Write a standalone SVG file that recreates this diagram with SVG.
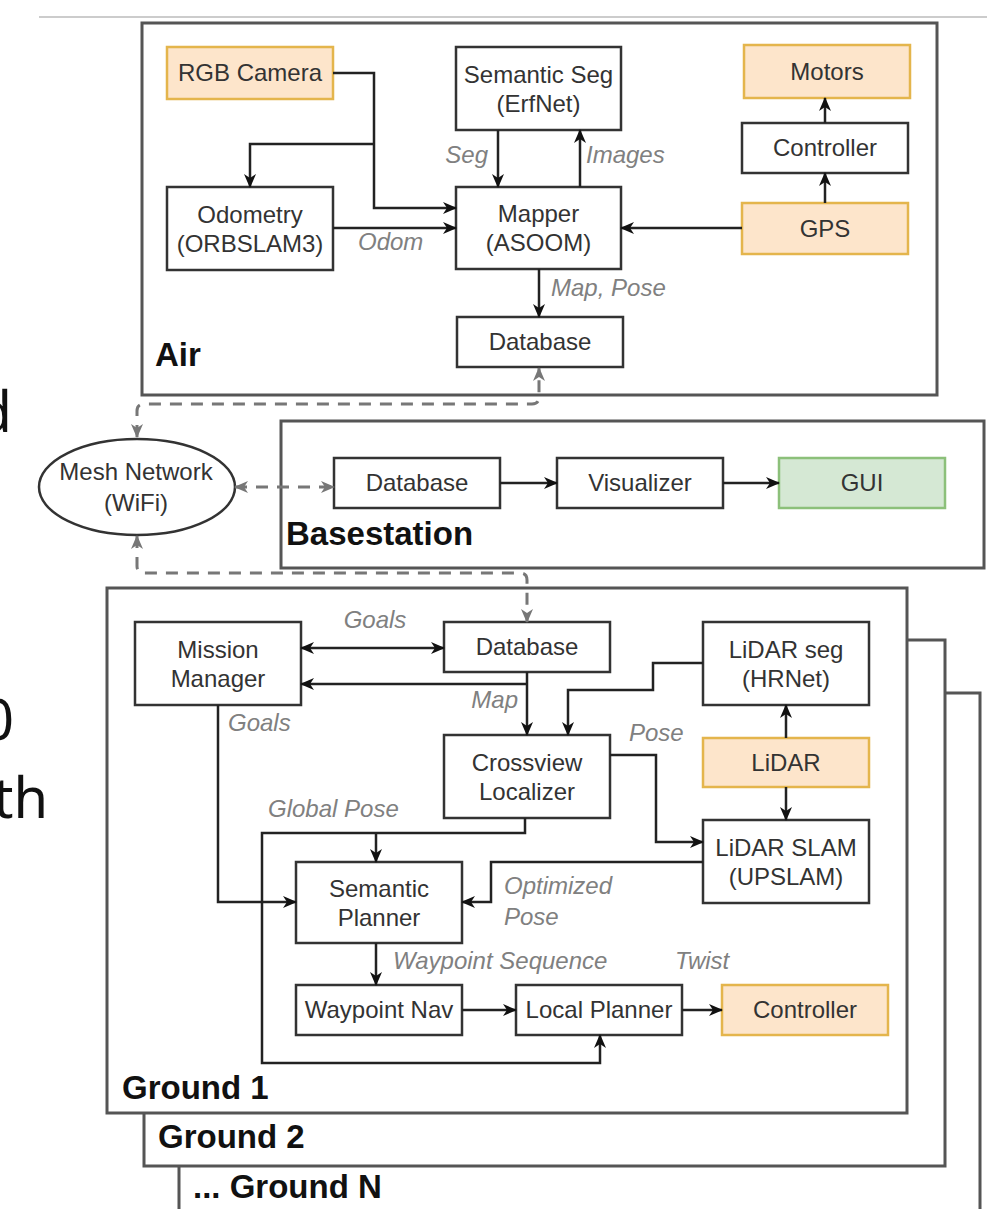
<svg xmlns="http://www.w3.org/2000/svg" width="1006" height="1209" viewBox="0 0 1006 1209">
<defs>
<style>
.box{fill:#fff;stroke:#333;stroke-width:2.5}
.org{fill:#fde5cb;stroke:#e4b54c;stroke-width:2.5}
.grn{fill:#d5e8d4;stroke:#8cc07a;stroke-width:2.5}
.cont{fill:#fff;stroke:#555;stroke-width:3}
.t{font-family:"Liberation Sans",Arial,sans-serif;font-size:24px;fill:#333;text-anchor:middle}
.lbl{font-family:"Liberation Sans",Arial,sans-serif;font-size:24px;font-style:italic;fill:#808080}
.sec{font-family:"Liberation Sans",Arial,sans-serif;font-size:33px;font-weight:bold;fill:#111}
.doc{font-family:"Noto Sans","DejaVu Sans",sans-serif;font-size:56px;fill:#111;text-anchor:end}
.w{fill:none;stroke:#222;stroke-width:2.5;marker-end:url(#a)}
.w2{fill:none;stroke:#222;stroke-width:2.5;marker-start:url(#a);marker-end:url(#a)}
.d{fill:none;stroke:#777;stroke-width:3;stroke-dasharray:12 9;marker-start:url(#g);marker-end:url(#g)}
</style>
<marker id="a" viewBox="0 0 14 12" refX="13" refY="6" markerWidth="14" markerHeight="12" markerUnits="userSpaceOnUse" orient="auto-start-reverse"><path d="M0,0 L14,6 L0,12 L4,6 Z" fill="#111"/></marker>
<marker id="g" viewBox="0 0 14 12" refX="13" refY="6" markerWidth="14" markerHeight="12" markerUnits="userSpaceOnUse" orient="auto-start-reverse"><path d="M0,0 L14,6 L0,12 L4,6 Z" fill="#777"/></marker>
</defs>
<rect width="1006" height="1209" fill="#fff"/>
<line x1="39" y1="17" x2="987" y2="17" stroke="#ccc" stroke-width="2"/>
<text class="doc" x="12" y="432">d</text>
<text class="doc" x="14" y="740">0</text>
<text class="doc" x="48" y="818">th</text>

<g id="air">
<rect class="cont" x="142" y="23" width="795" height="372"/>
<text class="sec" x="155" y="366">Air</text>
</g>
<g id="basestation">
<rect class="cont" x="281" y="421" width="703" height="147"/>
<text class="sec" x="286" y="545">Basestation</text>
</g>
<g id="groundN">
<rect class="cont" x="179" y="693" width="801" height="560"/>
<text class="sec" x="193" y="1198">... Ground N</text>
</g>
<g id="ground2">
<rect class="cont" x="144" y="640" width="801" height="526"/>
<text class="sec" x="158" y="1148">Ground 2</text>
</g>
<g id="ground1">
<rect class="cont" x="107" y="588" width="800" height="525"/>
<text class="sec" x="122" y="1099">Ground 1</text>
</g>

<g id="rgb-camera"><rect class="org" x="167" y="47" width="166" height="52"/><text class="t" x="250" y="81">RGB Camera</text></g>
<g id="semantic-seg"><rect class="box" x="456" y="47" width="165" height="83"/><text class="t" x="538.5" y="82.5">Semantic Seg</text><text class="t" x="538.5" y="111.5">(ErfNet)</text></g>
<g id="motors"><rect class="org" x="744" y="45" width="166" height="53"/><text class="t" x="827" y="80">Motors</text></g>
<g id="air-controller"><rect class="box" x="742" y="123" width="166" height="50"/><text class="t" x="825" y="156">Controller</text></g>
<g id="gps"><rect class="org" x="742" y="203" width="166" height="51"/><text class="t" x="825" y="237">GPS</text></g>
<g id="odometry"><rect class="box" x="167" y="187" width="166" height="83"/><text class="t" x="250" y="222.5">Odometry</text><text class="t" x="250" y="251.5">(ORBSLAM3)</text></g>
<g id="mapper"><rect class="box" x="456" y="187" width="165" height="82"/><text class="t" x="538.5" y="222">Mapper</text><text class="t" x="538.5" y="251">(ASOOM)</text></g>
<g id="air-database"><rect class="box" x="457" y="317" width="166" height="50"/><text class="t" x="540" y="350">Database</text></g>

<g id="mesh-network"><ellipse cx="137" cy="487" rx="98" ry="48" fill="#fff" stroke="#333" stroke-width="2.5"/><text class="t" x="136" y="480">Mesh Network</text><text class="t" x="136" y="511">(WiFi)</text></g>

<g id="base-database"><rect class="box" x="334" y="458" width="166" height="50"/><text class="t" x="417" y="491">Database</text></g>
<g id="visualizer"><rect class="box" x="557" y="458" width="166" height="50"/><text class="t" x="640" y="491">Visualizer</text></g>
<g id="gui"><rect class="grn" x="779" y="458" width="166" height="50"/><text class="t" x="862" y="491">GUI</text></g>

<g id="mission-manager"><rect class="box" x="135" y="622" width="166" height="83"/><text class="t" x="218" y="657.5">Mission</text><text class="t" x="218" y="686.5">Manager</text></g>
<g id="ground-database"><rect class="box" x="444" y="622" width="166" height="50"/><text class="t" x="527" y="655">Database</text></g>
<g id="crossview-localizer"><rect class="box" x="444" y="735" width="166" height="83"/><text class="t" x="527" y="770.5">Crossview</text><text class="t" x="527" y="799.5">Localizer</text></g>
<g id="lidar-seg"><rect class="box" x="703" y="622" width="166" height="83"/><text class="t" x="786" y="657.5">LiDAR seg</text><text class="t" x="786" y="686.5">(HRNet)</text></g>
<g id="lidar"><rect class="org" x="703" y="738" width="166" height="49"/><text class="t" x="786" y="771">LiDAR</text></g>
<g id="lidar-slam"><rect class="box" x="703" y="820" width="166" height="83"/><text class="t" x="786" y="855.5">LiDAR SLAM</text><text class="t" x="786" y="884.5">(UPSLAM)</text></g>
<g id="semantic-planner"><rect class="box" x="296" y="862" width="166" height="81"/><text class="t" x="379" y="896.5">Semantic</text><text class="t" x="379" y="925.5">Planner</text></g>
<g id="waypoint-nav"><rect class="box" x="296" y="985" width="166" height="50"/><text class="t" x="379" y="1018">Waypoint Nav</text></g>
<g id="local-planner"><rect class="box" x="516" y="985" width="166" height="50"/><text class="t" x="599" y="1018">Local Planner</text></g>
<g id="ground-controller"><rect class="org" x="722" y="985" width="166" height="50"/><text class="t" x="805" y="1018">Controller</text></g>

<g id="connectors">
<path class="w" d="M333,73 H374 V208 H456"/>
<path class="w" d="M374,144 H250 V187"/>
<path class="w" d="M333,228 H456"/>
<path class="w" d="M498,130 V187"/>
<path class="w" d="M580,187 V130"/>
<path class="w" d="M742,228 H621"/>
<path class="w" d="M825,203 V173"/>
<path class="w" d="M825,123 V98"/>
<path class="w" d="M539,269 V317"/>
<path class="d" d="M137,437 V411 Q137,404 144,404 H532 Q539,404 539,397 V368"/>
<path class="d" d="M235,487 H334"/>
<path class="d" d="M137,536 V566 Q137,573 144,573 H520 Q527,573 527,580 V622"/>
<path class="w" d="M500,483 H557"/>
<path class="w" d="M723,483 H779"/>
<path class="w2" d="M301,648 H444"/>
<path class="w" d="M527,672 V735"/>
<path class="w" d="M527,684 H301"/>
<path class="w" d="M703,663 H653 V690 H568 V735"/>
<path class="w" d="M610,755 H656 V842 H703"/>
<path class="w" d="M786,738 V705"/>
<path class="w" d="M786,787 V820"/>
<path class="w" d="M525,818 V833 H262 V1063 H600 V1035"/>
<path class="w" d="M376,833 V862"/>
<path class="w" d="M218,705 V902 H296"/>
<path class="w" d="M703,862 H491 V902 H462"/>
<path class="w" d="M376,943 V985"/>
<path class="w" d="M462,1010 H516"/>
<path class="w" d="M682,1010 H722"/>
<text class="lbl" x="488" y="163" text-anchor="end">Seg</text>
<text class="lbl" x="586" y="163">Images</text>
<text class="lbl" x="358" y="250">Odom</text>
<text class="lbl" x="551" y="296">Map, Pose</text>
<text class="lbl" x="375" y="628" text-anchor="middle">Goals</text>
<text class="lbl" x="518" y="708" text-anchor="end">Map</text>
<text class="lbl" x="228" y="731">Goals</text>
<text class="lbl" x="629" y="741">Pose</text>
<text class="lbl" x="268" y="817">Global Pose</text>
<text class="lbl" x="504" y="894">Optimized</text>
<text class="lbl" x="504" y="925">Pose</text>
<text class="lbl" x="393" y="969">Waypoint Sequence</text>
<text class="lbl" x="675" y="969">Twist</text>
</g>
</svg>
